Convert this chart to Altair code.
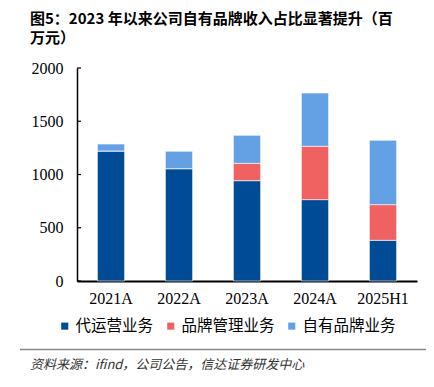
import altair as alt
import pandas as pd

years = ["2021A", "2022A", "2023A", "2024A", "2025H1"]
series = ["代运营业务", "品牌管理业务", "自有品牌业务"]
agency = [1221, 1055, 942, 764, 382]
brand_mgmt = [0, 0, 163, 501, 335]
own_brand = [65, 163, 263, 500, 604]
colors = ["#004B96", "#F06262", "#64A0E4"]
y_ticks = [0, 500, 1000, 1500, 2000]
title_lines = ["图5：2023 年以来公司自有品牌收入占比显著提升（百", "万元）"]
source_text = "资料来源：ifind，公司公告，信达证券研发中心"

rows = []
for i, y in enumerate(years):
    for j, (s, vals) in enumerate(zip(series, [agency, brand_mgmt, own_brand])):
        rows.append({"year": y, "series": s, "value": vals[i], "order": j})
df = pd.DataFrame(rows)

W, H = 340, 213

bars = alt.Chart(df).mark_bar(stroke="white", strokeWidth=0.6).encode(
    x=alt.X("year:N", sort=years, title=None,
            scale=alt.Scale(paddingInner=0.6, paddingOuter=0.3),
            axis=alt.Axis(labelAngle=0, labelFont="Liberation Serif", labelFontSize=16,
                          labelColor="black", ticks=False, domainColor="black",
                          domainWidth=2, labelPadding=9)),
    y=alt.Y("value:Q", stack="zero", title=None,
            scale=alt.Scale(domain=[0, 2000]),
            axis=alt.Axis(values=y_ticks, grid=False, ticks=False, labelPadding=14,
                          format="d",
                          labelFont="Liberation Serif", labelFontSize=16,
                          labelColor="black", domainColor="black", domainWidth=1.5)),
    color=alt.Color("series:N", sort=series,
                    scale=alt.Scale(domain=series, range=colors),
                    legend=alt.Legend(title=None, orient="none", direction="horizontal",
                                      legendX=-20, legendY=250, symbolType="square",
                                      symbolSize=50, symbolStrokeWidth=0,
                                      labelFont="Noto Sans CJK SC", labelFontSize=15.5,
                                      labelColor="black", labelOffset=3, columnPadding=9)),
    order=alt.Order("order:Q"),
)

ticks_df = pd.DataFrame({"t": y_ticks})
ticks = alt.Chart(ticks_df).mark_rule(color="black", strokeWidth=1.2).encode(
    y=alt.Y("t:Q", scale=alt.Scale(domain=[0, 2000])),
    x=alt.value(0), x2=alt.value(4),
)

line = alt.Chart(pd.DataFrame({"a": [0]})).mark_rule(color="#888888", strokeWidth=1.5).encode(
    x=alt.value(-57), x2=alt.value(350), y=alt.value(281.5)
)

source = alt.Chart(pd.DataFrame({"txt": [source_text]})).mark_text(
    align="left", baseline="middle", font="Noto Sans CJK SC", fontSize=13,
    fontStyle="italic", color="#333333"
).encode(text="txt:N", x=alt.value(-47), y=alt.value(297))

title1 = alt.Chart(pd.DataFrame({"txt": [title_lines[0]]})).mark_text(
    align="left", baseline="middle", font="Noto Sans CJK SC", fontSize=15,
    fontWeight="bold", color="black"
).encode(text="txt:N", x=alt.value(-47), y=alt.value(-49))

title2 = alt.Chart(pd.DataFrame({"txt": [title_lines[1]]})).mark_text(
    align="left", baseline="middle", font="Noto Sans CJK SC", fontSize=15,
    fontWeight="bold", color="black"
).encode(text="txt:N", x=alt.value(-47), y=alt.value(-30))

chart = alt.layer(bars, ticks, line, source, title1, title2).properties(
    width=W, height=H,
    autosize=alt.AutoSizeParams(type="none"),
    padding={"left": 69, "top": 60, "right": 9, "bottom": 98},
).configure_view(stroke=None)

chart.save("out.html", embed_options={"renderer": "svg", "actions": False})
